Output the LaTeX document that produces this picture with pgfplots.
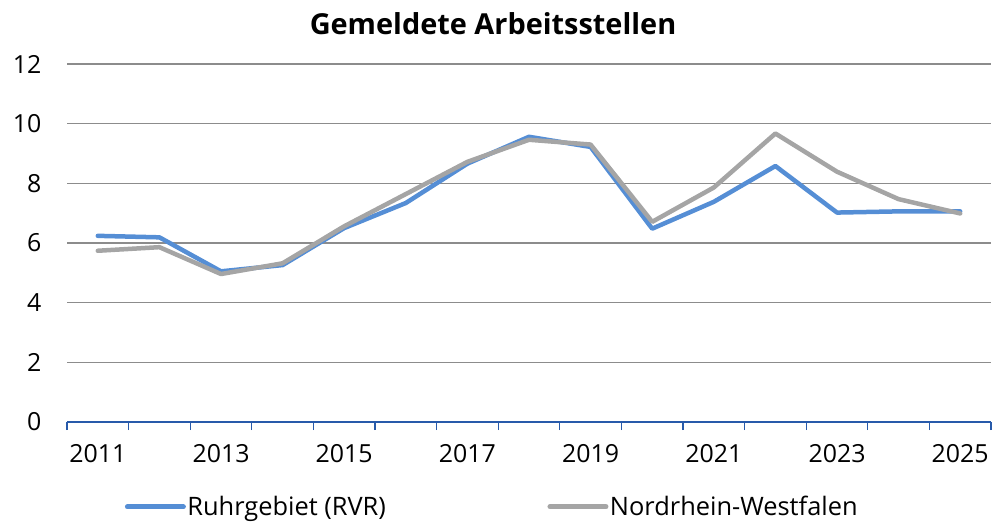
\documentclass[border=0pt]{standalone}
\usepackage{pgfplots}
\pgfplotsset{compat=1.18}
\usepackage{fontspec}
\setmainfont{Open Sans}
\definecolor{rblue}{RGB}{85,142,213}
\definecolor{ngrey}{RGB}{165,165,165}
\definecolor{gridc}{RGB}{140,140,140}
\definecolor{axblue}{RGB}{40,90,170}
\begin{document}
\begin{tikzpicture}
\useasboundingbox (0,0) rectangle (992bp,524bp);
\node[font=\fontsize{29}{33}\selectfont\bfseries, anchor=base] at (493bp,489bp) {Gemeldete Arbeitsstellen};
\begin{axis}[
  at={(67bp,102bp)}, anchor=south west,
  scale only axis, width=924bp, height=358bp,
  xmin=0, xmax=15, ymin=0, ymax=12,
  ytick={0,2,...,12},
  xtick={0,1,...,15}, xticklabels={},
  extra x ticks={0.5,2.5,...,14.5},
  extra x tick labels={2011,2013,2015,2017,2019,2021,2023,2025},
  extra x tick style={major tick length=0pt, grid=none, tick style={draw=none}},
  xticklabel style={yshift=-19bp},
  ymajorgrids, grid style={gridc, line width=1.3bp},
  axis x line*=bottom, axis y line*=left,
  y axis line style={draw=none},
  ytick style={draw=none},
  x axis line style={axblue, line width=1.3bp, -},
  xtick style={axblue, line width=1.3bp},
  major tick length=8bp,
  tick align=outside,
  yticklabel style={xshift=-14bp},
  tick label style={font=\fontsize{25}{29}\selectfont},
  /pgf/number format/assume math mode=true,
  clip=false,
  legend columns=2,
  legend style={at={(0.46,-0.237)}, anchor=center, draw=none, fill=none,
    font=\fontsize{25.5}{29}\selectfont, inner sep=0pt,
    nodes={inner xsep=1.5bp, inner ysep=0pt},
    /tikz/every even column/.append style={column sep=160bp}},
  legend cell align=left,
  legend image code/.code={\draw[#1, line width=5bp] (0bp,0bp) -- (56bp,0bp);},
]
\addplot[rblue, line width=4.5bp, line cap=round, line join=round] coordinates {
(0.5,6.24) (1.5,6.19) (2.5,5.05) (3.5,5.26) (4.5,6.50) (5.5,7.34) (6.5,8.66)
(7.5,9.56) (8.5,9.22) (9.5,6.48) (10.5,7.38) (11.5,8.58) (12.5,7.02) (13.5,7.06) (14.5,7.06)};
\addlegendentry{Ruhrgebiet (RVR)}
\addplot[ngrey, line width=4.5bp, line cap=round, line join=round] coordinates {
(0.5,5.74) (1.5,5.86) (2.5,4.96) (3.5,5.32) (4.5,6.56) (5.5,7.64) (6.5,8.72)
(7.5,9.46) (8.5,9.30) (9.5,6.71) (10.5,7.86) (11.5,9.67) (12.5,8.39) (13.5,7.47) (14.5,6.99)};
\addlegendentry{Nordrhein-Westfalen}
\end{axis}
\end{tikzpicture}
\end{document}
